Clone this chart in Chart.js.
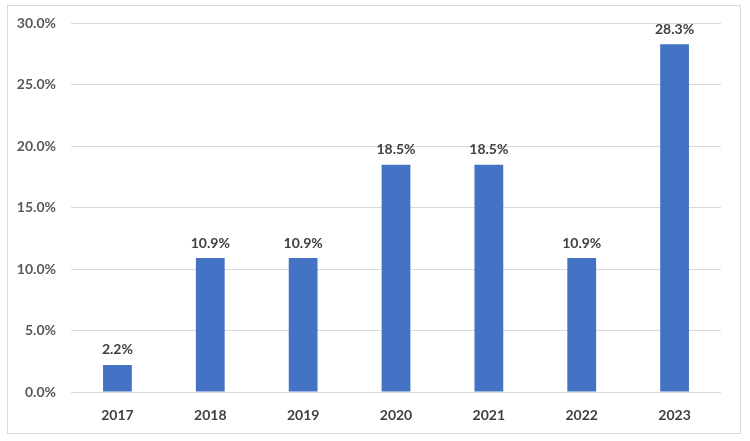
<!DOCTYPE html>
<html>
<head>
<meta charset="utf-8">
<script src="https://cdn.jsdelivr.net/npm/chart.js@4/dist/chart.umd.min.js"></script>
<style>
  html, body { margin: 0; padding: 0; background: #fff; }
  #wrap { width: 750px; height: 441px; }
</style>
</head>
<body>
<div id="wrap"><canvas id="chart"></canvas></div>
<script>
const years = ['2017', '2018', '2019', '2020', '2021', '2022', '2023'];
const shares = [2.2, 10.9, 10.9, 18.5, 18.5, 10.9, 28.3];
const yTicks = [0, 5, 10, 15, 20, 25, 30];

const FONT = 'Lato, "Open Sans", sans-serif';

// rótulos acima das barras + moldura externa
const labelsPlugin = {
  id: 'barLabels',
  afterDatasetsDraw(chart) {
    const ctx = chart.ctx;
    const meta = chart.getDatasetMeta(0);
    ctx.save();
    ctx.font = 'bold 14px ' + FONT;
    ctx.fillStyle = '#404040';
    ctx.textAlign = 'center';
    ctx.textBaseline = 'bottom';
    meta.data.forEach((bar, i) => {
      ctx.fillText(shares[i].toFixed(1) + '%', bar.x, bar.y - 8);
    });
    ctx.restore();
  },
  afterDraw(chart) {
    const ctx = chart.ctx;
    ctx.save();
    ctx.strokeStyle = '#d9d9d9';
    ctx.lineWidth = 1;
    ctx.strokeRect(7.5, 5.5, 733, 428);
    ctx.restore();
  }
};

new Chart(document.getElementById('chart'), {
  type: 'bar',
  data: {
    labels: years,
    datasets: [{
      data: shares,
      backgroundColor: '#4472C4',
      borderWidth: 0,
      barPercentage: 0.31,
      categoryPercentage: 1
    }]
  },
  options: {
    responsive: true,
    maintainAspectRatio: false,
    animation: false,
    layout: { padding: { top: 23, right: 29, left: 0, bottom: 0 } },
    plugins: {
      legend: { display: false },
      tooltip: { enabled: false }
    },
    scales: {
      x: {
        grid: { display: false },
        border: { display: false },
        ticks: {
          color: '#404040',
          font: { family: FONT, size: 14, weight: 'bold' },
          padding: 7
        },
        afterFit(scale) { scale.height = 49; }
      },
      y: {
        min: 0,
        max: 30,
        afterBuildTicks(scale) { scale.ticks = yTicks.map(v => ({ value: v })); },
        grid: { color: '#d9d9d9', drawTicks: false },
        border: { display: false },
        ticks: {
          color: '#595959',
          font: { family: FONT, size: 14, weight: 'bold' },
          padding: 15,
          callback: v => v.toFixed(1) + '%'
        },
        afterFit(scale) { scale.width = 71; }
      }
    }
  },
  plugins: [labelsPlugin]
});
</script>
</body>
</html>
